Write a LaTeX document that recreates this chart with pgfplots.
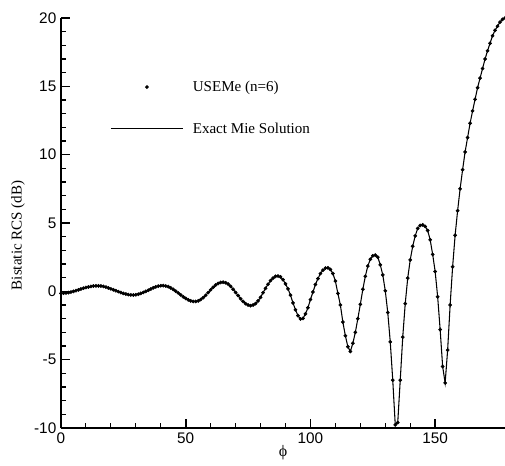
\documentclass[border=0pt]{standalone}
\usepackage{fontspec}
\setmainfont{Liberation Serif}
\setsansfont{Liberation Sans}
\usepackage{pgfplots}
\usepackage{pgfplotstable}
\pgfplotsset{compat=1.18}
\usetikzlibrary{calc}

\pgfplotsset{
    dotlegend/.style={legend image code/.code={\draw[mark repeat=2,mark phase=2,##1]
        plot coordinates {(0pt,0pt) (27pt,0pt) (54pt,0pt)};}},
    linelegend/.style={legend image code/.code={\draw[##1] (0pt,0pt) -- (54pt,0pt);}},
}

% bistatic RCS, one point per degree
\pgfplotstableread{
phi rcs
0 -0.15
1 -0.14
2 -0.12
3 -0.09
4 -0.05
5 0.00
6 0.05
7 0.11
8 0.17
9 0.23
10 0.28
11 0.32
12 0.36
13 0.39
14 0.40
15 0.40
16 0.39
17 0.36
18 0.31
19 0.25
20 0.18
21 0.11
22 0.05
23 -0.02
24 -0.09
25 -0.15
26 -0.20
27 -0.24
28 -0.26
29 -0.27
30 -0.25
31 -0.21
32 -0.15
33 -0.08
34 0.00
35 0.08
36 0.17
37 0.26
38 0.33
39 0.38
40 0.41
41 0.42
42 0.39
43 0.34
44 0.25
45 0.14
46 0.01
47 -0.12
48 -0.26
49 -0.40
50 -0.52
51 -0.62
52 -0.70
53 -0.74
54 -0.74
55 -0.70
56 -0.60
57 -0.46
58 -0.29
59 -0.09
60 0.11
61 0.30
62 0.46
63 0.58
64 0.65
65 0.67
66 0.63
67 0.53
68 0.37
69 0.15
70 -0.08
71 -0.31
72 -0.54
73 -0.74
74 -0.90
75 -1.00
76 -1.05
77 -1.00
78 -0.90
79 -0.70
80 -0.44
81 -0.10
82 0.22
83 0.52
84 0.78
85 0.97
86 1.10
87 1.12
88 1.06
89 0.85
90 0.55
91 0.18
92 -0.28
93 -0.85
94 -1.35
95 -1.78
96 -2.02
97 -1.98
98 -1.65
99 -1.20
100 -0.60
101 -0.05
102 0.50
103 0.93
104 1.30
105 1.55
106 1.70
107 1.72
108 1.60
109 1.30
110 0.75
111 -0.15
112 -1.00
113 -2.25
114 -3.25
115 -4.05
116 -4.40
117 -3.80
118 -3.00
119 -2.00
120 -0.95
121 0.15
122 1.10
123 1.85
124 2.35
125 2.60
126 2.65
127 2.50
128 1.94
129 1.20
130 0.04
131 -1.55
132 -3.70
133 -6.50
134 -9.77
135 -9.60
136 -6.50
137 -3.35
138 -0.90
139 0.97
140 2.30
141 3.30
142 4.06
143 4.60
144 4.82
145 4.86
146 4.75
147 4.45
148 3.77
149 2.70
150 1.45
151 -0.40
152 -2.80
153 -5.50
154 -6.70
155 -4.30
156 -1.00
157 1.80
158 4.10
159 5.90
160 7.50
161 8.90
162 10.20
163 11.25
164 12.30
165 13.20
166 14.05
167 14.90
168 15.60
169 16.30
170 17.00
171 17.60
172 18.15
173 18.70
174 19.10
175 19.40
176 19.70
177 19.90
178 20.00
}\rcsdata

\begin{document}
\begin{tikzpicture}
\begin{axis}[
    scale only axis,
    width=333pt, height=307.5pt,
    xmin=0, xmax=178,
    ymin=-10, ymax=20,
    axis lines=left,
    axis line style={-, line width=1.5pt},
    xtick={0,50,100,150},
    xticklabels={0,50,100,150},
    ytick={-10,-5,0,5,10,15,20},
    yticklabels={-10,-5,0,5,10,15,20},
    minor x tick num=4,
    minor y tick num=4,
    tick align=inside,
    major tick length=7pt,
    minor tick length=3.5pt,
    major tick style={black, line width=1.2pt},
    minor tick style={black, line width=0.8pt},
    tick label style={font=\sffamily\fontsize{11.5}{13}\selectfont},
    ylabel={Bistatic RCS (dB)},
    ylabel style={at={(axis description cs:-0.097,0.47)}, anchor=center,
        font=\fontsize{11.3}{13}\selectfont},
    xlabel={ϕ},
    xlabel style={at={(axis description cs:0.5,-0.059)}, anchor=center,
        font=\fontsize{12}{13}\selectfont},
    legend cell align=left,
    legend style={draw=none, fill=none, inner sep=0pt,
        at={(axis cs:19.7,13.42)}, anchor=west,
        row sep=18pt, column sep=5pt,
        font=\fontsize{11.3}{13}\selectfont},
]
\addplot[only marks, mark=*, mark size=1.2pt, black, dotlegend]
    table[x=phi, y=rcs] {\rcsdata};
\addlegendentry{USEMe (n=6)}
\addplot[no marks, black, line width=0.8pt, linelegend]
    table[x=phi, y=rcs] {\rcsdata};
\addlegendentry{Exact Mie Solution}
\end{axis}
\pgfresetboundingbox
\path[use as bounding box] ($(current axis.south west)+(-45.75pt,-27.75pt)$)
    rectangle ($(current axis.north east)+(0pt,13.5pt)$);
\end{tikzpicture}
\end{document}
